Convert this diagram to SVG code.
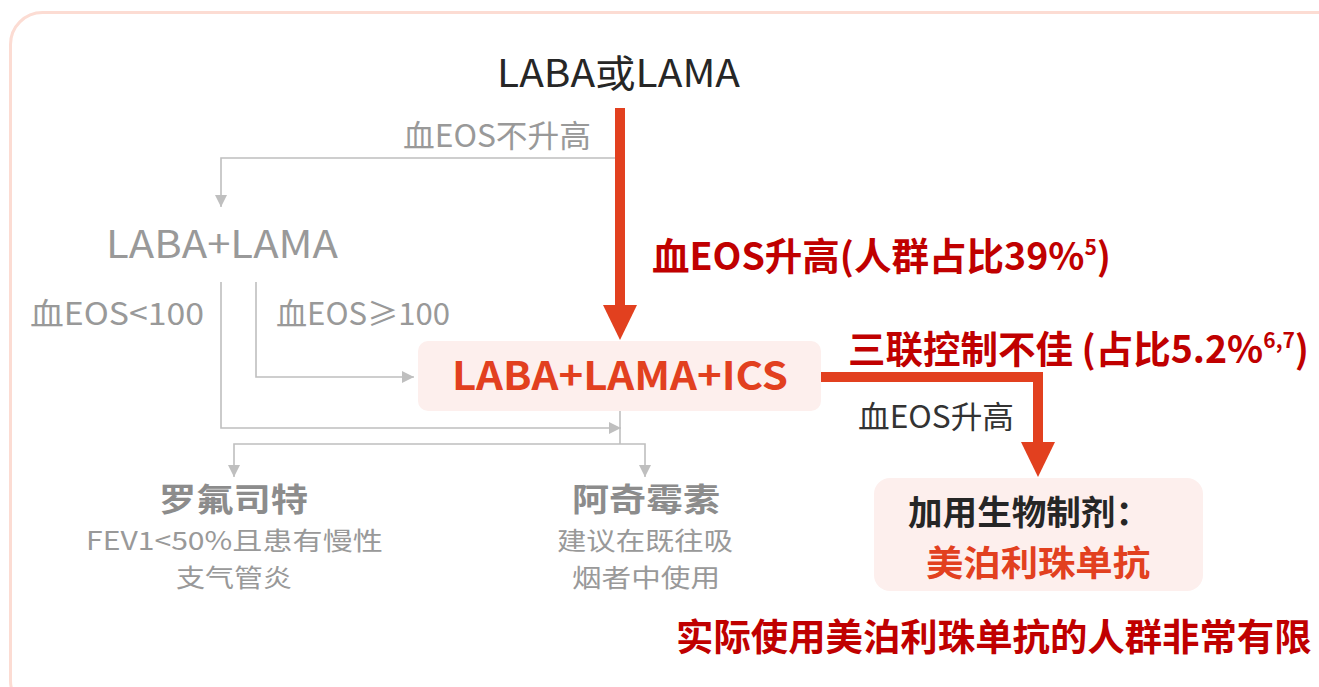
<svg xmlns="http://www.w3.org/2000/svg" width="1319" height="687" viewBox="0 0 1319 687">
<defs>
<style>
text{font-family:"Noto Sans CJK SC","Noto Sans",sans-serif;}
.gray{fill:#999999;}
.dark{fill:#262626;}
.red{fill:#c00000;font-weight:bold;}
.orange{fill:#e2401f;font-weight:bold;}
.gl{fill:none;stroke:#bfbfbf;stroke-width:1.6;}
.rl{fill:none;stroke:#e2401f;stroke-width:10;}
.box{fill:#fdefed;}
.ttl{font-size:32px;font-weight:bold;fill:#8c8c8c;}
.sub{font-size:25px;fill:#999999;}
</style>
<marker id="ga" viewBox="0 0 10 12" refX="12" refY="6" markerWidth="12" markerHeight="12" markerUnits="userSpaceOnUse" orient="auto">
<path d="M0,0 L12,6 L0,12 Z" fill="#bfbfbf"/>
</marker>
</defs>
<rect x="10.5" y="12.5" width="1340" height="700" rx="32" fill="#ffffff" stroke="#fcdcd3" stroke-width="3"/>

<g id="connectors">
<path class="gl" d="M620,158 H221 V207" marker-end="url(#ga)"/>
<path class="gl" d="M256,282 V377 H414" marker-end="url(#ga)"/>
<path class="gl" d="M221,282 V428 H621" marker-end="url(#ga)"/>
<path class="gl" d="M620,411 V444"/>
<path class="gl" d="M620,444 H234 V477" marker-end="url(#ga)"/>
<path class="gl" d="M620,444 H645 V477" marker-end="url(#ga)"/>
<path class="rl" d="M620,108 V306"/>
<path d="M603,305 L637,305 L620,340 Z" fill="#e2401f"/>
<path class="rl" d="M821,377 H1038 V444"/>
<path d="M1021,442 L1055,442 L1038,477 Z" fill="#e2401f"/>
</g>

<g id="label-not-raised"><text class="gray" x="403" y="147" font-size="31" textLength="188" lengthAdjust="spacingAndGlyphs">血EOS不升高</text></g>
<g id="label-raised-39"><text class="red" x="652" y="270" font-size="37.5">血EOS升高(人群占比39%<tspan font-size="21" dy="-15">5</tspan><tspan dy="15">)</tspan></text></g>
<g id="label-lt100"><text class="gray" x="30" y="325" font-size="31" textLength="174" lengthAdjust="spacingAndGlyphs">血EOS&lt;100</text></g>
<g id="label-ge100"><text class="gray" x="276" y="325" font-size="31" textLength="174" lengthAdjust="spacingAndGlyphs">血EOS≥100</text></g>
<g id="label-triple"><text class="red" x="848" y="363" font-size="37.5">三联控制不佳 (占比5.2%<tspan font-size="21" dy="-15">6,7</tspan><tspan dy="15">)</tspan></text></g>
<g id="label-raised"><text x="858" y="428" font-size="31" fill="#333" textLength="156" lengthAdjust="spacingAndGlyphs">血EOS升高</text></g>

<g id="node-start"><text class="dark" x="497" y="87" font-size="38" textLength="243" lengthAdjust="spacingAndGlyphs">LABA或LAMA</text></g>
<g id="node-dual"><text class="gray" x="106" y="258" font-size="38" textLength="232" lengthAdjust="spacingAndGlyphs">LABA+LAMA</text></g>
<g id="node-triple">
<rect class="box" x="418" y="341" width="403" height="70" rx="10"/>
<text class="orange" x="452" y="390" font-size="39" textLength="336" lengthAdjust="spacingAndGlyphs">LABA+LAMA+ICS</text>
</g>
<g id="node-roflumilast">
<text class="ttl" x="159" y="511" textLength="149" lengthAdjust="spacingAndGlyphs">罗氟司特</text>
<text class="sub" x="86" y="550" textLength="297" lengthAdjust="spacingAndGlyphs">FEV1&lt;50%且患有慢性</text>
<text class="sub" x="176" y="587" textLength="116" lengthAdjust="spacingAndGlyphs">支气管炎</text>
</g>
<g id="node-azithromycin">
<text class="ttl" x="572" y="511" textLength="148" lengthAdjust="spacingAndGlyphs">阿奇霉素</text>
<text class="sub" x="557" y="550" textLength="176" lengthAdjust="spacingAndGlyphs">建议在既往吸</text>
<text class="sub" x="572" y="587" textLength="148" lengthAdjust="spacingAndGlyphs">烟者中使用</text>
</g>
<g id="node-biologic">
<rect class="box" x="874" y="478" width="329" height="113" rx="16"/>
<text x="908" y="525" font-size="34" font-weight="bold" fill="#262626" textLength="242" lengthAdjust="spacingAndGlyphs">加用生物制剂：</text>
<text class="orange" x="926" y="576" font-size="35" textLength="224" lengthAdjust="spacingAndGlyphs">美泊利珠单抗</text>
</g>
<g id="note"><text class="red" x="676" y="651" font-size="37.4">实际使用美泊利珠单抗的人群非常有限</text></g>
</svg>
